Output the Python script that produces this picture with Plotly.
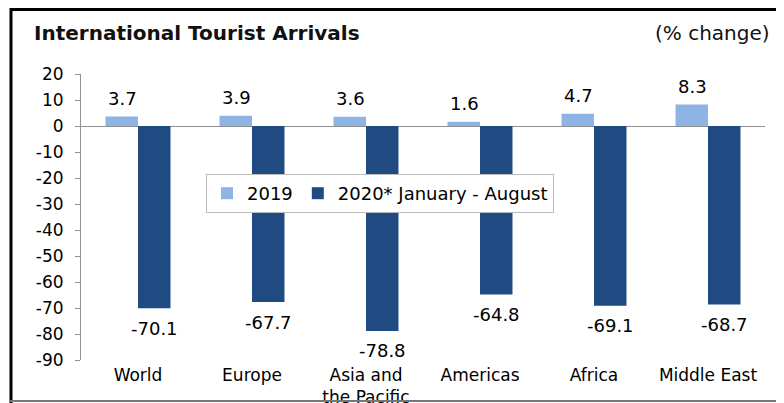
import plotly.graph_objects as go

categories = ["World", "Europe", "Asia and<br>the Pacific", "Americas", "Africa", "Middle East"]
values_2019 = [3.7, 3.9, 3.6, 1.6, 4.7, 8.3]
values_2020 = [-70.1, -67.7, -78.8, -64.8, -69.1, -68.7]
series_names = ["2019", "2020* January - August"]
y_ticks = [20, 10, 0, -10, -20, -30, -40, -50, -60, -70, -80, -90]

FONT = "DejaVu Sans, Verdana, sans-serif"
C19 = "#8DB4E2"
C20 = "#1F4A82"

fig = go.Figure()
fig.add_trace(go.Bar(x=categories, y=values_2019, name=series_names[0],
                     marker=dict(color=C19, line=dict(width=0))))
fig.add_trace(go.Bar(x=categories, y=values_2020, name=series_names[1],
                     marker=dict(color=C20, line=dict(width=0))))

annotations = []
for c, v in zip(categories, values_2019):
    annotations.append(dict(x=c, y=v, xref="x", yref="y", text=f"{v:.1f}",
                            showarrow=False, xshift=-16, yshift=18,
                            font=dict(family=FONT, size=18, color="#000")))
for c, v in zip(categories, values_2020):
    annotations.append(dict(x=c, y=v, xref="x", yref="y", text=f"{v:.1f}",
                            showarrow=False, xshift=16, yshift=-20,
                            font=dict(family=FONT, size=18, color="#000")))

# page has an 8px body offset; plot area (page px) x 81..765, y 74..360
def px_x(p):
    return (p - 81) / 684.0

def px_y(p):
    return (360 - p) / 286.0

annotations.append(dict(x=px_x(32), y=px_y(33), xref="paper", yref="paper",
                        xanchor="left", yanchor="middle", showarrow=False,
                        text="<b>International Tourist Arrivals</b>",
                        font=dict(family=FONT, size=20, color="#111")))
annotations.append(dict(x=px_x(772), y=px_y(33), xref="paper", yref="paper",
                        xanchor="right", yanchor="middle", showarrow=False,
                        text="(% change)",
                        font=dict(family=FONT, size=20, color="#111")))

shapes = [
    dict(type="line", xref="paper", yref="paper", x0=px_x(11), x1=px_x(11),
         y0=px_y(8), y1=px_y(403), line=dict(color="#000", width=3)),
    dict(type="line", xref="paper", yref="paper", x0=px_x(10), x1=px_x(784),
         y0=px_y(9.5), y1=px_y(9.5), line=dict(color="#000", width=3)),
    dict(type="line", xref="paper", yref="paper", x0=px_x(10), x1=px_x(784),
         y0=px_y(401), y1=px_y(401), line=dict(color="#777", width=2)),
]

fig.update_layout(
    width=784, height=403,
    margin=dict(l=73, r=27, t=66, b=51),
    paper_bgcolor="white", plot_bgcolor="white",
    barmode="group", bargap=0.43, bargroupgap=0,
    font=dict(family=FONT, size=18, color="#000"),
    showlegend=True,
    legend=dict(orientation="h", x=px_x(206), y=px_y(174), xanchor="left", yanchor="top",
                bgcolor="white", bordercolor="#BBBBBB", borderwidth=1,
                font=dict(family=FONT, size=18, color="#000"),
                itemwidth=30, tracegroupgap=0),
    annotations=annotations,
    shapes=shapes,
)
fig.update_xaxes(showgrid=False, showline=False, ticks="", zeroline=False,
                 automargin=False,
                 tickfont=dict(family=FONT, size=17, color="#000"),
                 ticklabelstandoff=3)
fig.update_yaxes(range=[-90, 20], tickvals=y_ticks, ticktext=[str(t) for t in y_ticks],
                 automargin=False,
                 showgrid=False, showline=True, linecolor="#909090", linewidth=1,
                 ticks="outside", ticklen=5, tickcolor="#909090",
                 zeroline=True, zerolinecolor="#909090", zerolinewidth=1,
                 tickfont=dict(family=FONT, size=17, color="#000"),
                 ticklabelstandoff=8)

fig.write_html("out.html")
